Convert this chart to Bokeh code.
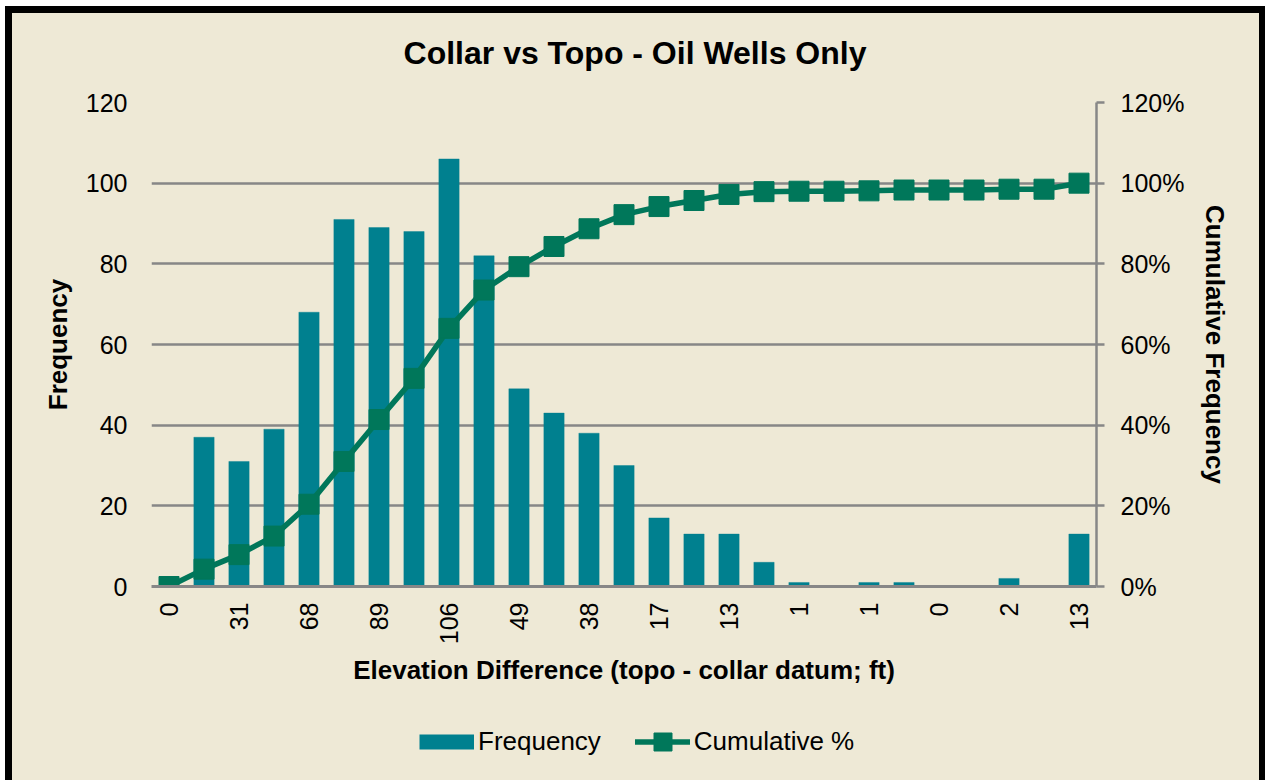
import math

from bokeh.plotting import figure
from bokeh.layouts import column
from bokeh.models import (Range1d, LinearAxis, FixedTicker, NumeralTickFormatter,
                          Legend, LegendItem, Label)
from bokeh.embed import file_html
from bokeh.resources import INLINE

# ---- data -------------------------------------------------------------
bin_labels = ["0", "37", "31", "39", "68", "91", "89", "88", "106", "82", "49",
              "43", "38", "30", "17", "13", "13", "6", "1", "0", "1", "1", "0",
              "0", "2", "0", "13"]
frequency = [0, 37, 31, 39, 68, 91, 89, 88, 106, 82, 49, 43, 38, 30, 17, 13, 13,
             6, 1, 0, 1, 1, 0, 0, 2, 0, 13]
cumulative_pct = [0.0, 4.3, 7.9, 12.5, 20.4, 31.0, 41.4, 51.6, 64.0, 73.5, 79.3,
                  84.3, 88.7, 92.2, 94.2, 95.7, 97.2, 97.9, 98.0, 98.0, 98.1,
                  98.3, 98.3, 98.3, 98.5, 98.5, 100.0]
freq_ticks = [0, 20, 40, 60, 80, 100, 120]
pct_ticks = [0.0, 0.2, 0.4, 0.6, 0.8, 1.0, 1.2]

positions = list(range(len(bin_labels)))
cumulative = [v / 100.0 for v in cumulative_pct]

# ---- style ------------------------------------------------------------
BG = "#EEE9D6"
BAR = "#00808F"
LINE = "#00775A"
GRID = "#878787"
FONT = "Liberation Sans"
FRAME_W = 945


def strip(height, x_end, y_end):
    """Plain beige band (no axes) used above and below the chart."""
    s = figure(width=1247, height=height, title=None, output_backend="svg",
               toolbar_location=None, x_axis_type=None, y_axis_type=None,
               x_range=Range1d(0, x_end), y_range=Range1d(0, y_end), min_border=0)
    s.background_fill_alpha = 0
    s.border_fill_color = BG
    s.outline_line_color = None
    return s


# ---- title band ---------------------------------------------------------
head = strip(70, FRAME_W, 70)
head.add_layout(Label(x=483.5, y=31, text="Collar vs Topo - Oil Wells Only",
                      text_align="center", text_baseline="middle",
                      text_font=FONT, text_font_size="32px",
                      text_font_style="bold", text_color="black"))

# ---- main chart -----------------------------------------------------------
p = figure(frame_width=FRAME_W, frame_height=484,
           output_backend="svg", toolbar_location=None,
           x_range=Range1d(-0.5, len(bin_labels) - 0.5), y_range=Range1d(0, 120),
           min_border_left=139, min_border_right=163,
           min_border_top=19, min_border_bottom=120)
p.extra_y_ranges = {"pct": Range1d(0, 1.2)}

p.background_fill_color = BG
p.border_fill_color = BG
p.outline_line_color = None

# grid
p.xgrid.grid_line_color = None
p.ygrid.grid_line_color = GRID
p.ygrid.grid_line_width = 2.5
p.ygrid.ticker = FixedTicker(ticks=freq_ticks)

# left axis
ya = p.yaxis[0]
ya.ticker = FixedTicker(ticks=freq_ticks)
ya.axis_line_color = None
ya.major_tick_line_color = None
ya.minor_tick_line_color = None
ya.major_tick_out = 0
ya.major_label_standoff = 24
ya.major_label_text_font = FONT
ya.major_label_text_font_size = "25px"
ya.major_label_text_color = "black"
ya.axis_label = "Frequency"
ya.axis_label_text_font = FONT
ya.axis_label_text_font_size = "26px"
ya.axis_label_text_font_style = "bold"
ya.axis_label_text_color = "black"
ya.axis_label_standoff = 10

# bottom axis
xa = p.xaxis[0]
xa.ticker = FixedTicker(ticks=positions[::2])
xa.major_label_overrides = {i: bin_labels[i] for i in positions[::2]}
xa.major_label_orientation = math.pi / 2
xa.axis_line_color = GRID
xa.axis_line_width = 3
xa.major_tick_line_color = None
xa.minor_tick_line_color = None
xa.major_tick_out = 0
xa.major_tick_in = 0
xa.major_label_standoff = 16
xa.major_label_text_font = FONT
xa.major_label_text_font_size = "25px"
xa.major_label_text_color = "black"
xa.axis_label = "Elevation Difference (topo - collar datum; ft)"
xa.axis_label_text_font = FONT
xa.axis_label_text_font_size = "26px"
xa.axis_label_text_font_style = "bold"
xa.axis_label_text_color = "black"
xa.axis_label_standoff = 8

# right axis
ra = LinearAxis(y_range_name="pct", ticker=FixedTicker(ticks=pct_ticks),
                formatter=NumeralTickFormatter(format="0%"))
ra.axis_line_color = GRID
ra.axis_line_width = 2.5
ra.major_tick_line_color = GRID
ra.major_tick_line_width = 2.5
ra.major_tick_out = 8
ra.major_tick_in = 0
ra.minor_tick_line_color = None
ra.major_label_standoff = 16
ra.major_label_text_font = FONT
ra.major_label_text_font_size = "25px"
ra.major_label_text_color = "black"
ra.axis_label = "Cumulative Frequency"
ra.axis_label_text_font = FONT
ra.axis_label_text_font_size = "26px"
ra.axis_label_text_font_style = "bold"
ra.axis_label_text_color = "black"
ra.axis_label_standoff = 13
p.add_layout(ra, "right")

# bars and cumulative line
p.vbar(x=positions, top=frequency, width=0.58, fill_color=BAR, line_color=BAR,
       line_alpha=0.4, line_width=1)
p.line(x=positions, y=cumulative, y_range_name="pct",
       line_color=LINE, line_width=5.5, line_join="round", line_cap="round")
p.scatter(x=positions, y=cumulative, y_range_name="pct",
          marker="square", size=20, fill_color=LINE, line_color=LINE)

# ---- legend band ----------------------------------------------------------
# its renderers lie outside the band's ranges; only the legend keys show
key = strip(74, -1, -1)
key.x_range = Range1d(-2, -1)
key.y_range = Range1d(-2, -1)

freq_key = key.line(x=positions, y=frequency, line_color=BAR, line_width=15,
                    line_cap="butt")
cum_key_line = key.line(x=positions, y=cumulative, line_color=LINE,
                        line_width=5.5, line_cap="round")
cum_key_mark = key.scatter(x=positions, y=cumulative, marker="square",
                           fill_color=LINE, line_color=LINE)

legend = Legend(items=[LegendItem(label="Frequency", renderers=[freq_key]),
                       LegendItem(label="Cumulative %",
                                  renderers=[cum_key_line, cum_key_mark])],
                orientation="horizontal", location=(268, 16))
legend.background_fill_alpha = 0
legend.border_line_alpha = 0
legend.label_text_font = FONT
legend.label_text_font_size = "26px"
legend.label_text_color = "black"
legend.glyph_width = 55
legend.glyph_height = 45
legend.label_standoff = 4
legend.spacing = 34
legend.padding = 0
legend.margin = 0
key.add_layout(legend, "center")

# thick black frame drawn around the whole chart without changing its box
layout = column(head, p, key, spacing=0,
                styles={"position": "relative", "left": "12px", "top": "13px",
                        "outline": "7px solid black",
                        "background-color": BG})

open("out.html", "w").write(file_html(layout, INLINE))
